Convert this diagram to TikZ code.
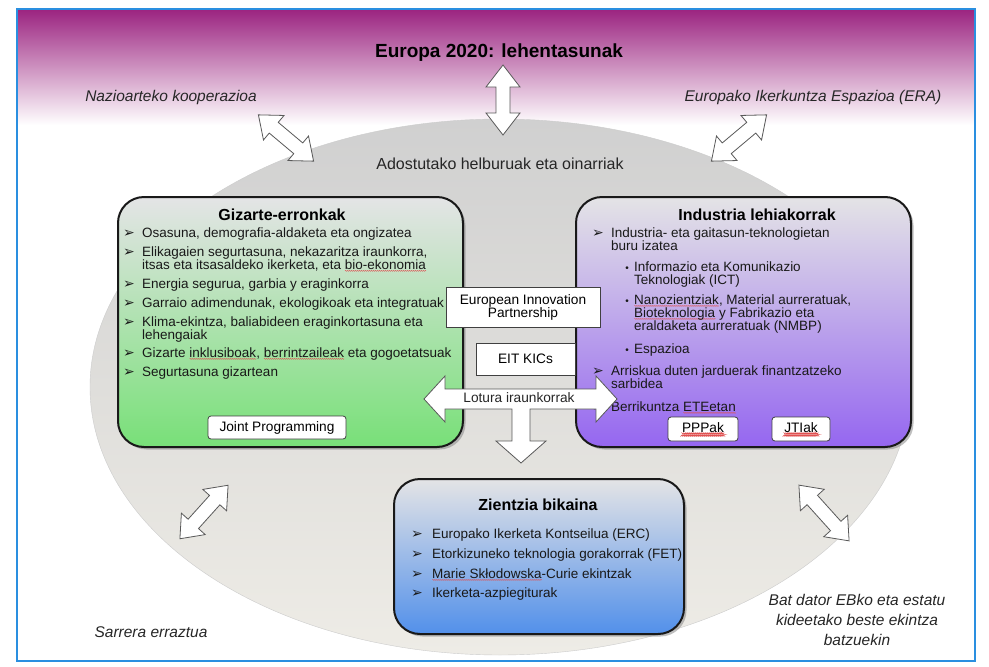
\documentclass[tikz,border=0pt]{standalone}
\usepackage{fontspec}
\setmainfont{Liberation Sans}
\newfontfamily\dejavu{DejaVu Sans}
\usetikzlibrary{shadows,calc,decorations.pathmorphing}
\definecolor{framec}{HTML}{2A8FE0}
\definecolor{topband}{HTML}{9B2380}
\definecolor{ellTop}{HTML}{D0D0D0}
\definecolor{ellBot}{HTML}{EEECE6}
\definecolor{boxtop}{HTML}{E4E4E6}
\definecolor{gbot}{HTML}{78E078}
\definecolor{pbot}{HTML}{9566F0}
\definecolor{bbot}{HTML}{5290EA}
\definecolor{squig}{HTML}{E05050}
\newcommand\ar{\char"27A2}
\newsavebox\sqbox
\newcommand\sq[1]{\sbox\sqbox{#1}\rlap{\raisebox{-2.6pt}{\tikz[x=1pt,y=1pt]\draw[squig, line width=0.35pt]
  decorate[decoration={zigzag, segment length=2pt, amplitude=0.55pt}]{(0,0) -- (\the\wd\sqbox,0)};}}\usebox\sqbox}
\newcommand\dblarr[8]{%
  \draw[barrow, shift={(#2,#3)}, rotate=#4]
    ({-#5/2},0) -- ({-#5/2+#8},#7) -- ({-#5/2+#8},#6) -- ({#5/2-#8},#6) -- ({#5/2-#8},#7)
    -- ({#5/2},0) -- ({#5/2-#8},-#7) -- ({#5/2-#8},-#6) -- ({-#5/2+#8},-#6) -- ({-#5/2+#8},-#7) -- cycle;
  \coordinate (#1) at (#2,#3);}
\begin{document}
\begin{tikzpicture}[x=1pt,y=-1pt,
 itm/.style={anchor=base west, inner sep=0pt, text height=9.5pt, text depth=2pt, font=\fontsize{13.5}{15}\selectfont, text=black!90},
 arw/.style={anchor=base, inner sep=0pt, font=\dejavu\fontsize{14}{14}\selectfont, text=black!90},
 sub/.style={anchor=base, inner sep=0pt, font=\fontsize{10}{10}\selectfont, text=black!90},
 ttl/.style={inner sep=0pt, font=\fontsize{16}{18}\selectfont\bfseries},
 lbl/.style={inner sep=0pt, align=center, font=\fontsize{15.5}{20}\selectfont\itshape, text=black!85},
 smallbox/.style={draw=black!75, line width=0.8pt, fill=white, inner sep=0pt, align=center, font=\fontsize{13.7}{13}\selectfont},
 bigbox/.style={draw=black!90, line width=2pt, rounded corners=26pt, inner sep=0pt,
   drop shadow={shadow xshift=2.5pt, shadow yshift=-2.5pt, opacity=0.5}},
 barrow/.style={draw=black!65, line width=0.8pt, fill=white, line join=miter}
]
\useasboundingbox (0,0) rectangle (989,667);
\fill[white] (0,0) rectangle (989,667);
% top band
\shade[top color=topband, bottom color=white] (17,9) rectangle (975,125);
% ellipse
\shade[top color=ellTop, bottom color=ellBot, draw=black!20] (500,387) ellipse [x radius=410pt, y radius=268pt];
% frame
\draw[framec, line width=1.5pt] (17,9) rectangle (975,661);

% title and labels
\node[inner sep=0pt, font=\fontsize{19}{21}\selectfont\bfseries] (title) at (499,53) {Europa 2020: lehentasunak};
\node[lbl] (naz) at (171,97) {Nazioarteko kooperazioa};
\node[lbl] (era) at (813,97) {Europako Ikerkuntza Espazioa (ERA)};
\node[inner sep=0pt, font=\fontsize{16}{18}\selectfont, text=black!85] (ados) at (500,164) {Adostutako helburuak eta oinarriak};
\node[lbl] (sar) at (151,632) {Sarrera erraztua};
\node[lbl] (bat) at (857,620) {Bat dator EBko eta estatu\\kideetako beste ekintza\\batzuekin};

% block arrows
\dblarr{aTop}{503}{100}{90}{70}{7}{17}{22}
\dblarr{aTL}{286}{138}{-40}{72}{7}{16}{20}
\dblarr{aTR}{739}{138}{40}{72}{7}{16}{20}
\dblarr{aBL}{204}{512}{48}{72}{7}{16}{20}
\dblarr{aBR}{824}{513}{-48}{75}{7}{16}{20}

% big boxes
\node[bigbox, top color=boxtop, bottom color=gbot, minimum width=345pt, minimum height=250pt, anchor=north west] (gz) at (117,196) {};
\node[bigbox, top color=boxtop, bottom color=pbot, minimum width=335pt, minimum height=250pt, anchor=north west] (ind) at (575,196) {};
\node[bigbox, top color=boxtop, bottom color=bbot, minimum width=290pt, minimum height=155pt, anchor=north west] (zb) at (393,478) {};

% Gizarte-erronkak
\node[ttl] (gzt) at (282,215) {Gizarte-erronkak};
\node[arw] (g1b) at (129,237) {\ar};
\node[itm] (g1) at (142,237) {Osasuna, demografia-aldaketa eta ongizatea};
\node[arw] (g2b) at (129,256) {\ar};
\node[itm] (g2) at (142,256) {Elikagaien segurtasuna, nekazaritza iraunkorra,};
\node[itm] (g2c) at (142,269) {itsas eta itsasaldeko ikerketa, eta \sq{bio-ekonomia}};
\node[arw] (g3b) at (129,288) {\ar};
\node[itm] (g3) at (142,288) {Energia segurua, garbia y eraginkorra};
\node[arw] (g4b) at (129,307) {\ar};
\node[itm] (g4) at (142,307) {Garraio adimendunak, ekologikoak eta integratuak};
\node[arw] (g5b) at (129,326) {\ar};
\node[itm] (g5) at (142,326) {Klima-ekintza, baliabideen eraginkortasuna eta};
\node[itm] (g5c) at (142,339) {lehengaiak};
\node[arw] (g6b) at (129,357) {\ar};
\node[itm] (g6) at (142,357) {Gizarte \sq{inklusiboak}, \sq{berrintzaileak} eta gogoetatsuak};
\node[arw] (g7b) at (129,376) {\ar};
\node[itm] (g7) at (142,376) {Segurtasuna gizartean};
\node[smallbox, rounded corners=3pt, minimum width=138pt, minimum height=23pt] (jp) at (277,427.5) {Joint Programming};

% Industria lehiakorrak
\node[ttl] (indt) at (757,215) {Industria lehiakorrak};
\node[arw] (i1b) at (598,237) {\ar};
\node[itm] (i1) at (611,237) {Industria- eta gaitasun-teknologietan};
\node[itm] (i1c) at (611,250) {buru izatea};
\node[sub] (i2b) at (627,271) {•};
\node[itm] (i2) at (634,271) {Informazio eta Komunikazio};
\node[itm] (i2c) at (634,284) {Teknologiak (ICT)};
\node[sub] (i3b) at (627,304) {•};
\node[itm] (i3) at (634,304) {\sq{Nanozientziak}, Material aurreratuak,};
\node[itm] (i3c) at (634,317) {\sq{Bioteknologia} y Fabrikazio eta};
\node[itm] (i3d) at (634,330) {eraldaketa aurreratuak (NMBP)};
\node[sub] (i4b) at (627,353) {•};
\node[itm] (i4) at (634,353) {Espazioa};
\node[arw] (i5b) at (598,375) {\ar};
\node[itm] (i5) at (611,375) {Arriskua duten jarduerak finantzatzeko};
\node[itm] (i5c) at (611,388) {sarbidea};
\node[arw] (i6b) at (598,411) {\ar};
\node[itm] (i6) at (611,411) {Berrikuntza \sq{ETEetan}};
\node[smallbox, rounded corners=3pt, minimum width=70pt, minimum height=24pt] (ppp) at (703,429) {\sq{PPPak}};
\node[smallbox, rounded corners=3pt, minimum width=58pt, minimum height=24pt] (jti) at (801,429) {\sq{JTIak}};

% Zientzia bikaina
\node[ttl] (zbt) at (538,505) {Zientzia bikaina};
\node[arw] (z1b) at (417,538) {\ar};
\node[itm] (z1) at (432,538) {Europako Ikerketa Kontseilua (ERC)};
\node[arw] (z2b) at (417,558) {\ar};
\node[itm] (z2) at (432,558) {Etorkizuneko teknologia gorakorrak (FET)};
\node[arw] (z3b) at (417,578) {\ar};
\node[itm] (z3) at (432,578) {\sq{Marie Skłodowska}-Curie ekintzak};
\node[arw] (z4b) at (417,597) {\ar};
\node[itm] (z4) at (432,597) {Ikerketa-azpiegiturak};

% middle
\node[smallbox, minimum width=154pt, minimum height=40pt] (eip) at (523,307) {European Innovation\\Partnership};
\node[smallbox, minimum width=99pt, minimum height=32pt] (eit) at (525.5,359) {EIT KICs};
\draw[barrow] (424,399) -- (445,376) -- (445,389) -- (596,389) -- (596,376) -- (617,399)
  -- (596,422) -- (596,409) -- (530,409) -- (530,441) -- (546,441) -- (521,463)
  -- (496,441) -- (512,441) -- (512,409) -- (445,409) -- (445,422) -- cycle;
\node[inner sep=0pt, font=\fontsize{13.7}{15}\selectfont, text=black!85] (lot) at (519,398) {Lotura iraunkorrak};
\end{tikzpicture}
\end{document}
